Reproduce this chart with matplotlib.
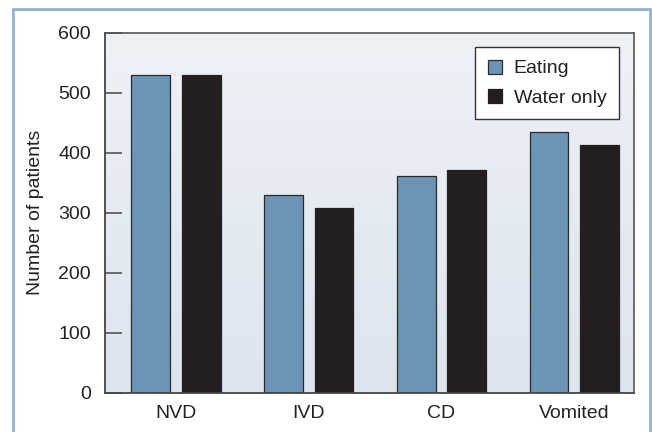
import matplotlib
matplotlib.use("Agg")
import matplotlib.pyplot as plt
import numpy as np
from matplotlib.patches import Rectangle
from matplotlib.colors import LinearSegmentedColormap

categories = ["NVD", "IVD", "CD", "Vomited"]
eating = [530, 329, 362, 435]
water_only = [530, 308, 371, 413]
series_labels = ["Eating", "Water only"]
yticks = [0, 100, 200, 300, 400, 500, 600]

plt.rcParams["font.family"] = ["Liberation Sans", "DejaVu Sans"]

W, H = 652, 432
fig = plt.figure(figsize=(W / 100, H / 100), dpi=100)
fig.patch.set_facecolor("white")

# outer panel frame
fig.patches.append(Rectangle((12.5 / W, -0.05), (650 - 12.5) / W, 1 - 8.5 / H + 0.05,
                             transform=fig.transFigure, fill=False,
                             edgecolor="#94b2d0", linewidth=2.0, zorder=0))

left, right, top, bottom = 105, 634, 33, 392.7
ax = fig.add_axes([left / W, 1 - bottom / H, (right - left) / W, (bottom - top) / H])

x = np.arange(len(categories))
offset = 0.19
width = 0.293

# gradient background of the plot area
grad = np.linspace(0, 1, 256).reshape(-1, 1)
cmap = LinearSegmentedColormap.from_list("bg", ["#dce4ee", "#eef1f6"])
ax.imshow(grad, cmap=cmap, aspect="auto", origin="lower",
          extent=[-0.535, 3.45, 0, 600], zorder=0)

ax.bar(x - offset, eating, width, color="#6b94b6", edgecolor="#2b2b2b",
       linewidth=0.9, label=series_labels[0], zorder=2)
ax.bar(x + offset, water_only, width, color="#231f20", edgecolor="#231f20",
       linewidth=0.9, label=series_labels[1], zorder=2)

fs = 14
ax.set_xlim(-0.535, 3.45)
ax.set_ylim(0, 600)
ax.set_yticks(yticks)
ax.set_xticks(x)
ax.set_xticklabels(categories)
ax.tick_params(axis="y", direction="in", length=12, width=1.2, color="#555555",
               labelsize=fs, pad=10, labelcolor="#222222")
ax.tick_params(axis="x", length=0, labelsize=fs, pad=9, labelcolor="#222222")
ax.set_ylabel("Number of patients", fontsize=fs, color="#222222", labelpad=10)

for side in ["left", "bottom"]:
    ax.spines[side].set_color("#444444")
    ax.spines[side].set_linewidth(1.3)
for side in ["top", "right"]:
    ax.spines[side].set_color("#555555")
    ax.spines[side].set_linewidth(1.2)

leg = ax.legend(loc="upper right", bbox_to_anchor=(0.9716, 0.961), fontsize=fs,
                frameon=True, fancybox=False, edgecolor="#333333",
                framealpha=1, facecolor="white", handlelength=0.72,
                handleheight=0.72, handletextpad=0.6, borderpad=0.65,
                labelspacing=0.6, borderaxespad=0)
leg.get_frame().set_linewidth(1.0)
for t in leg.get_texts():
    t.set_color("#222222")

fig.savefig("out.png", dpi=100)
